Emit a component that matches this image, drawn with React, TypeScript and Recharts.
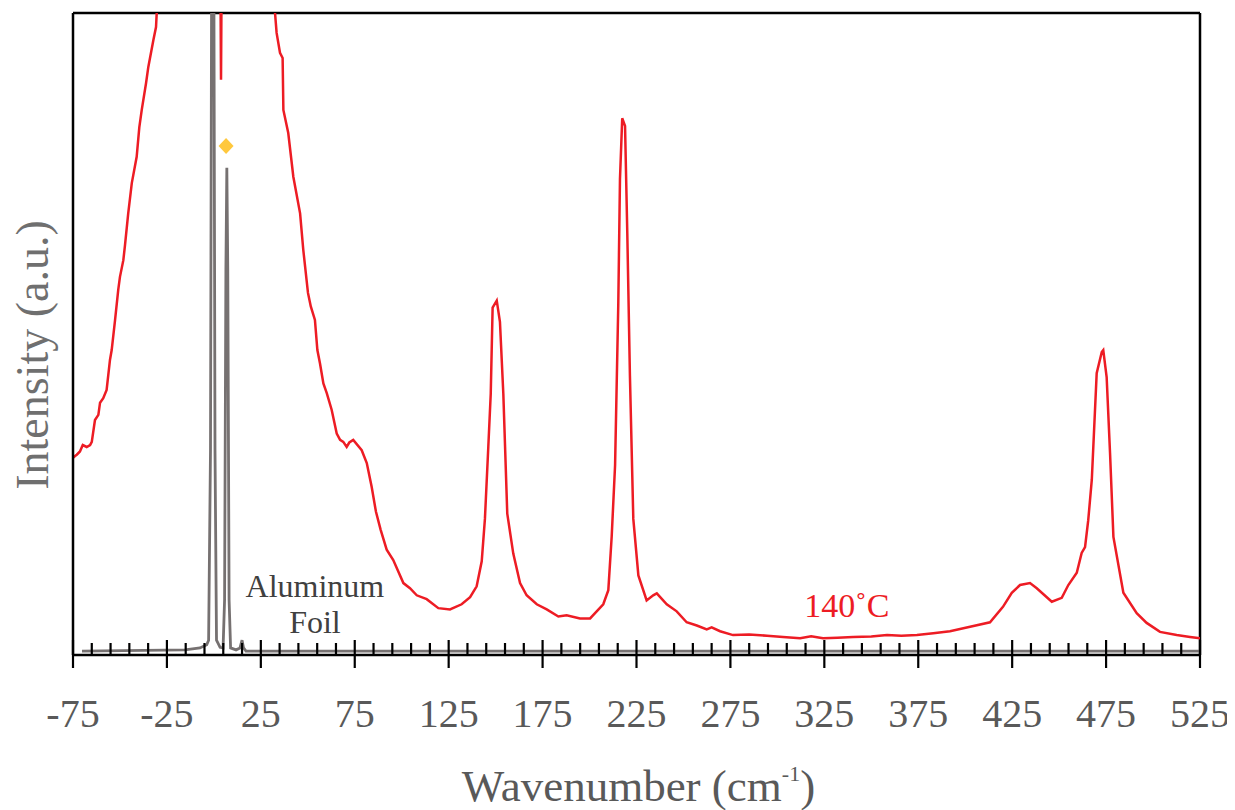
import { ComposedChart, Line, Scatter, XAxis, YAxis, ReferenceLine, ReferenceDot } from 'recharts';

const FONT = "'Palatino Linotype', 'Book Antiqua', Palatino, 'Liberation Serif', serif";

// x axis: labelled every 50, small ticks every 10
const majorTicks = [-75, -25, 25, 75, 125, 175, 225, 275, 325, 375, 425, 475, 525];
const minorTicks = majorTicks.slice(0, -1).flatMap((t) => [t + 10, t + 20, t + 30, t + 40]);
const allTicks = [...majorTicks, ...minorTicks].sort((a, b) => a - b);

// 140 C spectrum (red)
const redWave = [
  -75, -73.9, -73.0, -71.3, -69.8, -67.7, -65.9, -65.0, -63.3, -61.5, -60.6, -58.9, -57.1, -55.3,
  -54.4, -52.6, -50.9, -50.0, -48.2, -47.3, -45.6, -43.7, -41.1, -39.7, -38.4, -36.1, -34.9, -32.2,
  -30.8, -30.4, -28, -20, -10, 0, 3.0, 3.8, 4.6, 10, 20, 30, 32.5, 33.4, 35.2, 36.6, 37.0, 39.6,
  42.3, 45.9, 47.6, 50.1, 51.6, 53.8, 55.1, 56.5, 58.3, 60.1, 62.7, 65.4, 67.2, 68.9, 70.7, 72.1,
  74.2, 78.7, 81.4, 84.0, 86.3, 88.8, 92.0, 95.5, 100.9, 104.4, 108.0, 113.3, 119.5, 125.7, 131.9,
  136.4, 139.9, 142.6, 144.3, 146.1, 147.4, 148.4, 150.6, 152.3, 154.1, 156.2, 159.4, 163.0, 166.5,
  171.9, 177.2, 183.4, 187.8, 194.9, 200.3, 203.8, 207.3, 210.0, 211.8, 213.6, 215.3, 216.2, 217.4,
  218.9, 220.1, 221.5, 223.3, 226.0, 230.4, 233.9, 235.8, 241.1, 246.4, 251.7, 257.1, 262.4, 265.0,
  269.5, 276.4, 285, 294.5, 303, 312.1, 318, 324.3, 332, 340.3, 350, 358.4, 366, 374.3, 383, 391.9,
  402.6, 413.2, 420.1, 424.8, 429.2, 434.5, 438.1, 446.1, 451.4, 454.9, 459.4, 462.0, 463.8, 465.5,
  467.4, 470.0, 472.7, 473.5, 475.3, 477.1, 478.9, 484.2, 491.3, 496.6, 503.7, 512.6, 519.7, 525,
];
const redIntensity = [
  30.7, 31.0, 31.2, 31.7, 32.7, 32.4, 32.7, 33.2, 36.6, 37.4, 39.3, 40.0, 41.3, 46.0,
  47.5, 52.2, 56.9, 58.9, 61.5, 63.9, 68.8, 73.5, 77.6, 82.2, 84.9, 89.1, 91.6, 95.8,
  97.8, 100.2, 104, 120, 135, 140, 130, 89.6, 130, 140, 130, 106, 100.2, 96.9, 93.8, 93.0, 84.9, 81.3,
  74.5, 68.8, 63.1, 56.4, 54.3, 52.2, 47.5, 45.4, 42.3, 40.8, 38.2, 34.5, 33.5, 33.2, 32.4, 33.1,
  33.5, 31.9, 29.9, 26.2, 22.3, 19.5, 16.4, 14.8, 11.2, 10.4, 9.3, 8.7, 7.3, 7.1, 7.9,
  9.0, 10.7, 14.6, 21.2, 32.4, 40.7, 54.1, 55.2, 51.9, 40.7, 22.0, 15.8, 11.2, 9.3,
  7.9, 7.1, 6.0, 6.2, 5.7, 5.7, 6.8, 7.9, 10.1, 18.5, 29.6, 54.6, 74.1, 83.6,
  82.4, 65.7, 43.5, 21.2, 12.4, 8.5, 9.3, 9.6, 7.9, 6.8, 5.1, 4.6, 4.0, 4.3,
  3.7, 3.1, 3.2, 3.0, 2.8, 2.6, 2.9, 2.6, 2.7, 2.8, 2.9, 3.1, 3.0, 3.1, 3.4, 3.7,
  4.4, 5.1, 7.5, 9.7, 10.9, 11.2, 10.4, 8.3, 8.9, 10.9, 12.8, 15.9, 16.8, 21.0,
  27.3, 43.9, 47.2, 47.5, 43.3, 31.5, 18.4, 9.7, 6.5, 5.0, 3.6, 3.1, 2.8, 2.6,
];

// aluminum foil reference (grey)
const foilWave = [-70.2, -15.4, -7.4, -3.8, -2.8, -1.8, -1.0, -0.2, 0.6, 1.4, 3.3, 4.9, 5.7, 6.4, 6.9, 7.4, 8.1, 8.9, 11.8, 13.9, 15.0, 15.8, 17.1, 525];
const foilIntensity = [0.6, 0.8, 1.1, 1.6, 2.3, 31.9, 130, 130, 31.9, 2.3, 1.2, 1.1, 8.6, 60, 75.9, 60, 8.6, 1.1, 0.8, 1.1, 2.3, 1.1, 0.6, 0.6];

// yellow marker above the foil peak
const markerWave = [6.5];
const markerIntensity = [79.3];

const redData = redWave.map((w, i) => ({ w, v: redIntensity[i] }));
const foilData = foilWave.map((w, i) => ({ w, v: foilIntensity[i] }));
const markerData = markerWave.map((w, i) => ({ w, v: markerIntensity[i] }));

const AxisTick = (props: any) => {
  const { x, y, payload } = props;
  const major = majorTicks.includes(payload.value);
  return (
    <g>
      <line x1={x} x2={x} y1={major ? y - 15 : y - 12} y2={major ? y + 13 : y} stroke="#000" strokeWidth={2.2} />
      {major && (
        <text x={x} y={y + 72} textAnchor="middle" fontFamily={FONT} fontSize={40} fill="#595959">
          {payload.value}
        </text>
      )}
    </g>
  );
};

const Diamond = (props: any) => {
  const { cx, cy } = props;
  return <polygon points={`${cx},${cy - 8} ${cx + 7.5},${cy} ${cx},${cy + 8} ${cx - 7.5},${cy}`} fill="#FFC83D" />;
};

export default function App() {
  return (
    <ComposedChart width={1227} height={802} margin={{ top: 5, right: 35, left: 0, bottom: 0 }} style={{ overflow: 'visible' }}>
      <XAxis
        dataKey="w"
        type="number"
        domain={[-75, 525]}
        allowDataOverflow
        ticks={allTicks}
        interval={0}
        tickLine={false}
        tickSize={0}
        tickMargin={0}
        tick={<AxisTick />}
        axisLine={{ stroke: '#000', strokeWidth: 2.5 }}
        height={155}
        label={{
          content: (p: any) => {
            const vb = p.viewBox;
            return (
              <text x={vb.x + vb.width / 2 + 2} y={vb.y + 146} textAnchor="middle" fontFamily={FONT} fontSize={45} fill="#595959">
                Wavenumber (cm
                <tspan fontSize={22} dy={-20}>-1</tspan>
                <tspan dy={20}>)</tspan>
              </text>
            );
          },
        }}
      />
      <YAxis
        dataKey="v"
        type="number"
        domain={[0, 100]}
        allowDataOverflow
        tick={false}
        tickLine={false}
        width={65}
        axisLine={{ stroke: '#000', strokeWidth: 2.5 }}
        label={{
          content: (p: any) => {
            const vb = p.viewBox;
            const cx = vb.x + 40;
            const cy = vb.y + vb.height / 2 + 21;
            return (
              <text x={cx} y={cy} transform={`rotate(-90, ${cx}, ${cy})`} textAnchor="middle" fontFamily={FONT} fontSize={46} fill="#6f6f6f">
                Intensity (a.u.)
              </text>
            );
          },
        }}
      />
      <ReferenceLine y={100} stroke="#000" strokeWidth={2.5} />
      <ReferenceLine x={525} stroke="#000" strokeWidth={2.5} />

      <Line data={foilData} dataKey="v" type="linear" dot={false} stroke="#767171" strokeWidth={2.8} isAnimationActive={false} />
      <Line data={redData} dataKey="v" type="linear" dot={false} stroke="#ED1C24" strokeWidth={2.5} isAnimationActive={false} />
      <Scatter data={markerData} dataKey="v" shape={<Diamond />} isAnimationActive={false} />

      <ReferenceDot
        x={53.8}
        y={9.0}
        r={0}
        shape={(p: any) => (
          <g>
            <text x={p.cx} y={p.cy} textAnchor="middle" fontFamily={FONT} fontSize={32} fill="#404040">
              Aluminum
            </text>
            <text x={p.cx} y={p.cy + 36} textAnchor="middle" fontFamily={FONT} fontSize={32} fill="#404040">
              Foil
            </text>
          </g>
        )}
      />
      <ReferenceDot
        x={337}
        y={5.9}
        r={0}
        shape={(p: any) => (
          <text x={p.cx} y={p.cy} textAnchor="middle" fontFamily={FONT} fontSize={34} fill="#ED1C24">
            140˚C
          </text>
        )}
      />
    </ComposedChart>
  );
}
